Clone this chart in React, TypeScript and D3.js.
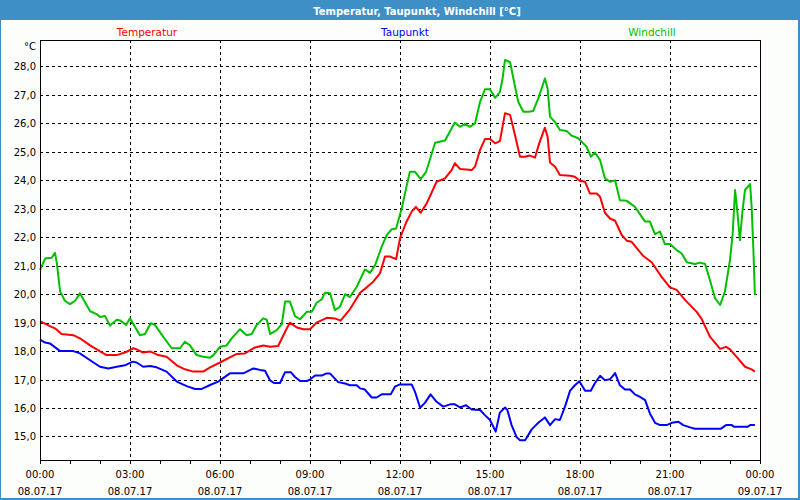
import React from "react";
import * as d3 from "d3";

const TITLE = "Temperatur, Taupunkt, Windchill [°C]";
const SERIES_NAMES = ["Temperatur", "Taupunkt", "Windchill"];
const SERIES_COLORS = ["#ff0000", "#0000ff", "#00c000"];
const Y_TICKS = [15, 16, 17, 18, 19, 20, 21, 22, 23, 24, 25, 26, 27, 28];
const X_MAJOR_HOURS = [0, 3, 6, 9, 12, 15, 18, 21, 24];
const X_TIME_LABELS = ["00:00", "03:00", "06:00", "09:00", "12:00", "15:00", "18:00", "21:00", "00:00"];
const X_DATE_LABELS = ["08.07.17", "08.07.17", "08.07.17", "08.07.17", "08.07.17", "08.07.17", "08.07.17", "08.07.17", "09.07.17"];

// Temperatur (hours since 00:00, °C)
const tempHours = [0, 0.33, 0.5, 0.72, 1.11, 1.33, 1.67, 2.0, 2.22, 2.56, 2.83, 3.11, 3.22, 3.44, 3.67, 3.94, 4.22, 4.56, 4.83, 5.11, 5.44, 5.67, 6.0, 6.33, 6.56, 6.83, 7.17, 7.44, 7.67, 7.94, 8.17, 8.33, 8.56, 8.78, 9.0, 9.22, 9.56, 9.83, 10.02, 10.33, 10.67, 10.89, 11.11, 11.33, 11.5, 11.67, 11.87, 12.0, 12.2, 12.39, 12.53, 12.69, 12.89, 13.22, 13.5, 13.72, 13.83, 14.0, 14.39, 14.5, 14.67, 14.83, 15.0, 15.17, 15.33, 15.5, 15.67, 15.83, 16.0, 16.17, 16.33, 16.5, 16.64, 16.83, 16.92, 17.0, 17.17, 17.33, 17.67, 17.83, 18.0, 18.17, 18.33, 18.56, 18.67, 18.83, 19.0, 19.17, 19.39, 19.56, 19.72, 20.11, 20.39, 20.72, 21.0, 21.22, 21.5, 21.89, 22.06, 22.33, 22.67, 22.87, 23.0, 23.22, 23.5, 23.72, 23.83];
const tempValues = [19.05, 18.88, 18.8, 18.6, 18.56, 18.45, 18.2, 17.99, 17.86, 17.86, 17.95, 18.1, 18.06, 17.95, 17.99, 17.86, 17.8, 17.5, 17.36, 17.28, 17.28, 17.43, 17.6, 17.78, 17.9, 17.92, 18.13, 18.2, 18.15, 18.18, 18.68, 19.0, 18.83, 18.77, 18.77, 19.0, 19.17, 19.15, 19.07, 19.47, 20.05, 20.24, 20.44, 20.73, 21.32, 21.32, 21.23, 21.96, 22.51, 22.9, 23.07, 22.86, 23.19, 23.95, 24.07, 24.36, 24.6, 24.4, 24.36, 24.48, 25.07, 25.45, 25.45, 25.3, 25.38, 26.36, 26.3, 25.6, 24.83, 24.83, 24.87, 24.8, 25.3, 25.85, 25.53, 24.63, 24.48, 24.19, 24.16, 24.13, 23.98, 23.95, 23.54, 23.54, 23.42, 22.86, 22.66, 22.58, 22.08, 21.88, 21.84, 21.34, 21.12, 20.61, 20.24, 20.15, 19.8, 19.38, 19.12, 18.51, 18.08, 18.15, 18.06, 17.8, 17.45, 17.36, 17.28];

// Taupunkt
const dewHours = [0, 0.17, 0.33, 0.67, 1.11, 1.33, 1.67, 2.0, 2.28, 2.56, 2.83, 3.09, 3.22, 3.44, 3.67, 3.89, 4.22, 4.56, 4.89, 5.17, 5.39, 5.67, 5.94, 6.33, 6.78, 7.11, 7.33, 7.5, 7.67, 7.8, 8.0, 8.17, 8.36, 8.5, 8.67, 8.89, 9.0, 9.17, 9.39, 9.53, 9.67, 9.94, 10.17, 10.33, 10.56, 10.67, 10.83, 11.06, 11.22, 11.39, 11.69, 11.83, 12.0, 12.39, 12.5, 12.67, 12.83, 13.02, 13.22, 13.44, 13.67, 13.83, 14.0, 14.2, 14.39, 14.67, 14.83, 15.0, 15.19, 15.33, 15.5, 15.58, 15.72, 15.89, 16.0, 16.17, 16.39, 16.61, 16.83, 17.0, 17.17, 17.33, 17.5, 17.67, 17.83, 17.98, 18.17, 18.36, 18.5, 18.67, 18.83, 19.0, 19.17, 19.33, 19.5, 19.67, 19.83, 20.0, 20.17, 20.33, 20.5, 20.67, 20.89, 21.06, 21.28, 21.44, 21.67, 21.83, 22.69, 22.87, 23.06, 23.13, 23.58, 23.67, 23.83];
const dewValues = [18.4, 18.3, 18.27, 18.0, 18.0, 17.92, 17.68, 17.45, 17.39, 17.45, 17.5, 17.63, 17.6, 17.45, 17.48, 17.43, 17.28, 16.93, 16.77, 16.67, 16.67, 16.81, 16.93, 17.22, 17.22, 17.39, 17.34, 17.31, 16.97, 16.88, 16.88, 17.26, 17.26, 17.09, 16.95, 16.95, 17.0, 17.14, 17.14, 17.21, 17.21, 16.91, 16.86, 16.8, 16.8, 16.69, 16.65, 16.37, 16.37, 16.48, 16.48, 16.75, 16.83, 16.83, 16.57, 16.01, 16.18, 16.48, 16.22, 16.05, 16.13, 16.13, 16.02, 16.1, 15.95, 15.93, 15.75, 15.58, 15.17, 15.84, 16.02, 15.93, 15.4, 14.97, 14.87, 14.87, 15.25, 15.48, 15.67, 15.4, 15.61, 15.58, 16.05, 16.61, 16.8, 16.94, 16.61, 16.61, 16.88, 17.13, 16.98, 17.01, 17.23, 16.8, 16.65, 16.65, 16.48, 16.39, 16.28, 15.81, 15.48, 15.4, 15.4, 15.48, 15.52, 15.4, 15.32, 15.27, 15.27, 15.4, 15.4, 15.34, 15.34, 15.4, 15.4];

// Windchill
const chillHours = [0, 0.17, 0.39, 0.5, 0.56, 0.67, 0.83, 1.0, 1.17, 1.33, 1.67, 1.89, 2.0, 2.17, 2.33, 2.56, 2.67, 2.87, 3.0, 3.33, 3.5, 3.69, 3.83, 4.11, 4.39, 4.67, 4.83, 5.0, 5.22, 5.44, 5.67, 5.78, 6.0, 6.22, 6.39, 6.67, 6.89, 7.06, 7.22, 7.44, 7.56, 7.67, 7.89, 8.06, 8.17, 8.33, 8.5, 8.67, 8.89, 9.06, 9.22, 9.39, 9.5, 9.67, 9.83, 10.0, 10.17, 10.33, 10.56, 10.83, 11.0, 11.17, 11.39, 11.56, 11.72, 11.87, 12.06, 12.22, 12.33, 12.5, 12.69, 12.87, 13.17, 13.5, 13.83, 14.0, 14.17, 14.33, 14.5, 14.67, 14.83, 15.0, 15.17, 15.33, 15.42, 15.5, 15.67, 15.78, 15.94, 16.11, 16.28, 16.44, 16.61, 16.76, 16.83, 16.92, 17.0, 17.17, 17.33, 17.56, 17.72, 17.94, 18.11, 18.22, 18.36, 18.5, 18.67, 18.83, 19.0, 19.17, 19.33, 19.56, 19.83, 20.17, 20.33, 20.5, 20.67, 20.83, 21.0, 21.22, 21.39, 21.56, 21.83, 22.0, 22.17, 22.33, 22.5, 22.67, 22.83, 23.0, 23.09, 23.17, 23.24, 23.33, 23.42, 23.5, 23.67, 23.72, 23.78, 23.83];
const chillValues = [20.85, 21.25, 21.28, 21.45, 21.1, 20.1, 19.77, 19.65, 19.77, 20.03, 19.4, 19.3, 19.2, 19.23, 18.9, 19.1, 19.08, 18.92, 19.15, 18.56, 18.6, 18.98, 18.92, 18.5, 18.1, 18.1, 18.33, 18.2, 17.86, 17.8, 17.77, 17.86, 18.15, 18.2, 18.45, 18.77, 18.56, 18.6, 18.92, 19.15, 19.1, 18.6, 18.74, 18.95, 19.74, 19.74, 19.23, 19.12, 19.38, 19.38, 19.7, 19.82, 20.05, 20.03, 19.44, 19.56, 20.0, 19.9, 20.26, 20.87, 20.75, 21.02, 21.67, 22.08, 22.28, 22.31, 23.02, 23.8, 24.3, 24.3, 24.04, 24.3, 25.32, 25.4, 26.03, 25.88, 25.98, 25.88, 26.0, 26.76, 27.2, 27.2, 26.9, 27.1, 27.58, 28.23, 28.15, 27.58, 26.76, 26.41, 26.41, 26.44, 26.88, 27.35, 27.58, 27.23, 26.24, 26.04, 25.77, 25.73, 25.57, 25.48, 25.3, 25.18, 24.83, 24.98, 24.71, 24.07, 23.95, 24.0, 23.3, 23.28, 23.07, 22.55, 22.55, 22.11, 22.2, 21.76, 21.76, 21.55, 21.43, 21.12, 21.06, 21.11, 21.06, 20.5, 19.86, 19.62, 20.09, 21.2, 22.14, 23.66, 22.96, 21.9, 22.96, 23.66, 23.87, 23.09, 21.55, 19.97];

const W = 800;
const H = 500;
const PL = 40;
const PR = 760;
const PT = 40;
const PB = 460;
const FONT = "'DejaVu Sans', Verdana, sans-serif";

export default function App() {
  const x = d3.scaleLinear().domain([0, 24]).range([PL, PR]);
  const y = d3.scaleLinear().domain([14.174, 28.931]).range([PB, PT]);
  const fmt = (v: number) => d3.format(".1f")(v).replace(".", ",");

  const series = [
    { h: tempHours, v: tempValues },
    { h: dewHours, v: dewValues },
    { h: chillHours, v: chillValues },
  ];
  const line = d3
    .line<[number, number]>()
    .x((d) => x(d[0]))
    .y((d) => y(d[1]));

  const minorHours = d3.range(0, 25);
  const legendX = [147, 405, 652];

  return (
    <svg
      width={W}
      height={H}
      style={{ position: "absolute", left: 0, top: 0, display: "block" }}
      fontFamily={FONT}
    >
      <rect x={0} y={0} width={W} height={H} fill="#fcfefc" />
      <rect x={0.5} y={0.5} width={W - 1.5} height={H - 1.5} fill="none" stroke="#3d8fc5" strokeWidth={1} />
      <rect x={W - 2} y={0} width={2} height={H} fill="#3d8fc5" />
      <rect x={0} y={H - 2} width={W} height={2} fill="#3d8fc5" />
      <rect x={0} y={0} width={W} height={20} fill="#3d8fc5" />
      <text x={417} y={14.5} textAnchor="middle" fill="#ffffff" fontWeight="bold" fontSize={10}>
        {TITLE}
      </text>

      {SERIES_NAMES.map((n, i) => (
        <text key={n} x={legendX[i]} y={35.5} textAnchor="middle" fill={SERIES_COLORS[i]} fontSize={10.5}>
          {n}
        </text>
      ))}

      <rect x={PL} y={PT} width={PR - PL} height={PB - PT} fill="#ffffff" />

      {Y_TICKS.map((t) => (
        <line
          key={"gy" + t}
          x1={PL}
          x2={PR}
          y1={Math.round(y(t)) + 0.5}
          y2={Math.round(y(t)) + 0.5}
          stroke="#000"
          strokeWidth={1}
          strokeDasharray="3,3"
          shapeRendering="crispEdges"
        />
      ))}
      {X_MAJOR_HOURS.slice(1, -1).map((h) => (
        <line
          key={"gx" + h}
          x1={x(h) + 0.5}
          x2={x(h) + 0.5}
          y1={PT}
          y2={PB}
          stroke="#000"
          strokeWidth={1}
          strokeDasharray="3,3"
          shapeRendering="crispEdges"
        />
      ))}

      {series.map((s, i) => (
        <path
          key={"s" + i}
          d={line(s.h.map((h, j) => [h, s.v[j]] as [number, number])) || ""}
          fill="none"
          stroke={SERIES_COLORS[i]}
          strokeWidth={2}
          strokeLinejoin="round"
        />
      ))}

      <rect x={PL + 0.5} y={PT + 0.5} width={PR - PL} height={PB - PT} fill="none" stroke="#000" strokeWidth={1} shapeRendering="crispEdges" />

      {minorHours.map((h) => (
        <line key={"tk" + h} x1={x(h) + 0.5} x2={x(h) + 0.5} y1={PB} y2={PB + 4} stroke="#000" shapeRendering="crispEdges" />
      ))}

      {Y_TICKS.map((t) => (
        <text key={"yl" + t} x={36} y={y(t) + 4} textAnchor="end" fontSize={10} fill="#000">
          {fmt(t)}
        </text>
      ))}
      <text x={36} y={50} textAnchor="end" fontSize={10} fill="#000">
        °C
      </text>

      {X_MAJOR_HOURS.map((h, i) => (
        <g key={"xl" + h}>
          <text x={x(h)} y={478} textAnchor="middle" fontSize={10} fill="#000">
            {X_TIME_LABELS[i]}
          </text>
          <text x={x(h)} y={495} textAnchor="middle" fontSize={10} fill="#000">
            {X_DATE_LABELS[i]}
          </text>
        </g>
      ))}
    </svg>
  );
}
